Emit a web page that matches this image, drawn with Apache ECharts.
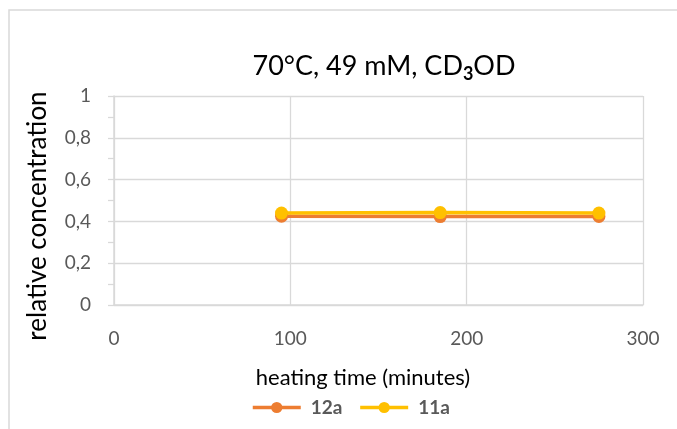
<!DOCTYPE html>
<html>
<head>
<meta charset="utf-8">
<script src="https://cdn.jsdelivr.net/npm/echarts@6/dist/echarts.min.js"></script>
<style>
html,body{margin:0;padding:0;background:#fff;}
#c{width:677px;height:429px;}
</style>
</head>
<body>
<div id="c"></div>
<script>
const seriesNames = ['12a', '11a'];
const times = [95, 185, 275];
const values12a = [0.425, 0.423, 0.424];
const values11a = [0.44, 0.442, 0.44];
const seriesColors = ['#ED7D31', '#FFC000'];
const xAxisName = 'heating time (minutes)';
const yAxisName = 'relative concentration';

const FONT = 'Lato, "Open Sans", sans-serif';
const chart = echarts.init(document.getElementById('c'));
const toPairs = (xs, ys) => xs.map((x, i) => [x, ys[i]]);

chart.setOption({
  backgroundColor: '#fff',
  animation: false,
  graphic: [
    {
      type: 'rect',
      shape: { x: 9, y: 10, width: 720, height: 460 },
      style: { fill: 'none', stroke: '#d9d9d9', lineWidth: 1.5 },
      silent: true
    },
    {
      type: 'text',
      x: 38, y: 216, rotation: Math.PI / 2,
      style: { text: yAxisName, fontFamily: FONT, fontSize: 26, fill: '#000',
               align: 'center', verticalAlign: 'middle' },
      silent: true
    },
    {
      type: 'text',
      x: 363, y: 378,
      style: { text: xAxisName, fontFamily: FONT, fontSize: 22, fill: '#000',
               align: 'center', verticalAlign: 'middle' },
      silent: true
    }
  ],
  title: {
    text: '{t|70°C, 49 mM, CD}{s|3}{t|OD}',
    left: 379,
    textAlign: 'center',
    top: 45,
    textStyle: {
      rich: {
        t: { fontFamily: FONT, fontSize: 27, color: '#000', fontWeight: 'normal' },
        s: { fontFamily: FONT, fontSize: 18, color: '#000', padding: [15, 0, 0, 0] }
      }
    }
  },
  grid: { left: 114, right: 34, top: 96, bottom: 124, containLabel: false },
  legend: {
    data: seriesNames,
    bottom: 7,
    left: 246,
    itemWidth: 48,
    itemHeight: 14,
    itemGap: 16,
    lineStyle: { width: 3.5 },
    textStyle: { fontFamily: FONT, fontSize: 19, fontWeight: 'bold', color: '#595959',
                 padding: [0, 0, 0, 5] }
  },
  xAxis: {
    type: 'value',
    min: 0, max: 300, interval: 100,
    axisLine: { show: true, lineStyle: { color: '#d9d9d9', width: 1.5 } },
    axisTick: { show: false },
    axisLabel: { fontFamily: FONT, fontSize: 19, color: '#595959', margin: 24 },
    splitLine: { show: true, lineStyle: { color: '#d9d9d9', width: 1.3 } }
  },
  yAxis: {
    type: 'value',
    min: 0, max: 1, interval: 0.2,
    axisLine: { show: true, lineStyle: { color: '#d9d9d9', width: 1.5 } },
    axisTick: { show: true, inside: false, length: 6, lineStyle: { color: '#d9d9d9', width: 1.3 } },
    minorTick: { show: true, splitNumber: 2, length: 6, lineStyle: { color: '#d9d9d9', width: 1.3 } },
    axisLabel: {
      fontFamily: FONT, fontSize: 19, color: '#595959', margin: 23,
      formatter: v => String(Math.round(v * 10) / 10).replace('.', ',')
    },
    splitLine: { show: true, lineStyle: { color: '#d9d9d9', width: 1.3 } }
  },
  series: [
    {
      name: seriesNames[0], type: 'line',
      data: toPairs(times, values12a),
      symbol: 'circle', symbolSize: 13,
      lineStyle: { width: 3.5, color: seriesColors[0] },
      itemStyle: { color: seriesColors[0] }
    },
    {
      name: seriesNames[1], type: 'line',
      data: toPairs(times, values11a),
      symbol: 'circle', symbolSize: 13,
      lineStyle: { width: 3.5, color: seriesColors[1] },
      itemStyle: { color: seriesColors[1] }
    }
  ]
});
</script>
</body>
</html>
